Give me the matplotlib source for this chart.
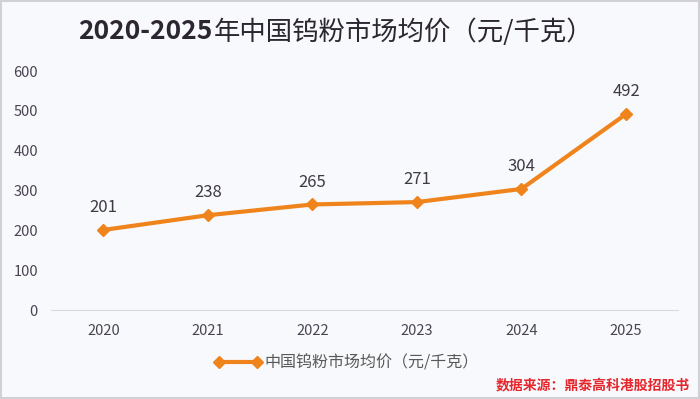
import matplotlib.pyplot as plt
from matplotlib.patches import Rectangle

plt.rcParams['font.family'] = ['Noto Sans CJK SC', 'DejaVu Sans']

years = ['2020', '2021', '2022', '2023', '2024', '2025']
prices = [201, 238, 265, 271, 304, 492]
y_ticks = [0, 100, 200, 300, 400, 500, 600]

orange = '#F0841C'
bg = '#F8F9FC'
txt = '#3F3A45'

fig = plt.figure(figsize=(7, 3.99), dpi=100)
fig.patch.set_facecolor(bg)
ax = fig.add_axes([0.073, 0.223, 0.896, 0.599])
ax.set_facecolor(bg)

x = list(range(len(years)))
ax.plot(x, prices, color=orange, lw=3, marker='D', ms=6, label='中国钨粉市场均价（元/千克）')
for xi, v in zip(x, prices):
    ax.annotate(str(v), (xi, v), xytext=(0, 10), textcoords='offset points',
                ha='center', va='bottom', fontsize=12, color=txt)

ax.set_xlim(-0.5, len(years) - 0.5)
ax.set_ylim(0, 600)
ax.set_xticks(x)
ax.set_xticklabels(years)
ax.set_yticks(y_ticks)
ax.tick_params(axis='both', length=0, labelsize=10.5, colors='#4A4452')
ax.tick_params(axis='y', pad=9.5)
ax.tick_params(axis='x', pad=10)
for s in ['top', 'right', 'left']:
    ax.spines[s].set_visible(False)
ax.spines['bottom'].set_color('#D9D9D9')

# 标题：数字加粗，中文常规
fig.canvas.draw()
r = fig.canvas.get_renderer()
t1 = fig.text(0, 0.92, '2020-2025', ha='left', va='center', fontsize=19,
              fontweight='bold', color='#2B2630')
t2 = fig.text(0, 0.92, '年中国钨粉市场均价（元/千克）', ha='left', va='center',
              fontsize=19, color='#2B2630')
w1 = t1.get_window_extent(r).width
w2 = t2.get_window_extent(r).width
x0 = (fig.bbox.width - w1 - w2) / 2 - 15
t1.set_x(x0 / fig.bbox.width)
t2.set_x((x0 + w1 + 1) / fig.bbox.width)

leg = fig.legend(loc='center', bbox_to_anchor=(0.495, 0.09), frameon=False, numpoints=2,
                 fontsize=11.5, handlelength=3, handletextpad=0.2)
for t in leg.get_texts():
    t.set_color('#595959')

fig.text(0.985, 0.035, '数据来源：鼎泰高科港股招股书', ha='right', va='center',
         fontsize=10, fontweight='bold', color='#E5262C')

fig.add_artist(Rectangle((0.002, 0.003), 0.996, 0.994, transform=fig.transFigure,
                         fill=False, edgecolor='#D0D0D5', lw=1.5))

fig.savefig('out.png', dpi=100, facecolor=bg)
